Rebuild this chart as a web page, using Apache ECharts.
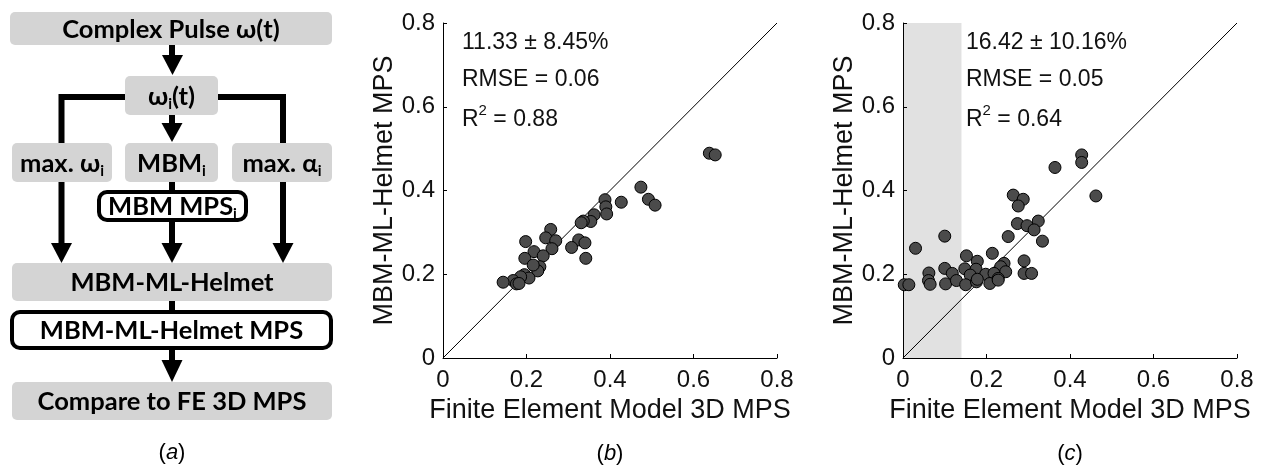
<!DOCTYPE html>
<html><head><meta charset="utf-8">
<script src="https://cdn.jsdelivr.net/npm/echarts@6/dist/echarts.min.js"></script>
<style>html,body{margin:0;padding:0;background:#fff}#chart{width:1262px;height:468px}</style>
</head><body><div id="chart"></div>
<script>
// ---------------- data ----------------
const axisMin = 0, axisMax = 0.8, axisStep = 0.2;
const identityLine = [[0, 0], [0.8, 0.8]];
// panel (b): Finite Element Model 3D MPS vs MBM-ML-Helmet MPS
const bFE = [0.638, 0.652, 0.474, 0.492, 0.508, 0.427, 0.388, 0.390, 0.392, 0.362, 0.354, 0.336, 0.331, 0.325, 0.340, 0.308, 0.342, 0.258, 0.246, 0.270, 0.261, 0.198, 0.218, 0.240, 0.196, 0.232, 0.227, 0.216, 0.195, 0.206, 0.186, 0.168, 0.176, 0.144, 0.182];
const bML = [0.489, 0.485, 0.408, 0.379, 0.365, 0.372, 0.378, 0.361, 0.344, 0.342, 0.326, 0.327, 0.323, 0.282, 0.275, 0.264, 0.238, 0.307, 0.287, 0.280, 0.261, 0.278, 0.254, 0.244, 0.238, 0.218, 0.208, 0.222, 0.199, 0.191, 0.194, 0.185, 0.177, 0.181, 0.178];
// panel (c)
const cFE = [0.428, 0.428, 0.364, 0.462, 0.264, 0.288, 0.276, 0.274, 0.297, 0.324, 0.314, 0.334, 0.252, 0.100, 0.030, 0.152, 0.214, 0.178, 0.290, 0.242, 0.234, 0.246, 0.100, 0.062, 0.118, 0.148, 0.175, 0.161, 0.198, 0.218, 0.290, 0.308, 0.061, 0.065, 0.003, 0.014, 0.102, 0.128, 0.150, 0.176, 0.178, 0.208, 0.228, 0.228];
const cML = [0.485, 0.467, 0.455, 0.387, 0.389, 0.379, 0.363, 0.321, 0.316, 0.327, 0.306, 0.279, 0.290, 0.291, 0.262, 0.244, 0.250, 0.231, 0.232, 0.226, 0.218, 0.206, 0.214, 0.203, 0.202, 0.213, 0.212, 0.198, 0.200, 0.202, 0.202, 0.202, 0.185, 0.176, 0.175, 0.175, 0.177, 0.185, 0.175, 0.182, 0.188, 0.178, 0.190, 0.186];
const shadedFE = [0, 0.14];
const statsB = ['11.33 \u00b1 8.45%', 'RMSE = 0.06', '0.88'];
const statsC = ['16.42 \u00b1 10.16%', 'RMSE = 0.05', '0.64'];
const xTitle = 'Finite Element Model 3D MPS';
const yTitle = 'MBM-ML-Helmet MPS';
const panelLetters = ['a', 'b', 'c'];
// flowchart texts ('|' toggles subscript)
const flowSteps = ['Complex Pulse \u03c9(t)', '\u03c9|i|(t)', 'max. \u03c9|i', 'MBM|i', 'max. \u03b1|i', 'MBM MPS|i', 'MBM-ML-Helmet', 'MBM-ML-Helmet MPS', 'Compare to FE 3D MPS'];

// ---------------- helpers ----------------
const FF = 'Liberation Sans';
const FLOW_F = 'Lato';
const TXT = '#111';
const ctx = document.createElement('canvas').getContext('2d');
function measure(s) {
  ctx.font = (s.style || 'normal') + ' ' + (s.weight || 'normal') + ' ' + s.size + 'px ' + s.family;
  return ctx.measureText(s.t).width;
}
function compose(segs, x, y, align, z) {
  const ws = segs.map(measure);
  const total = ws.reduce((a, b) => a + b, 0);
  let sx = align === 'center' ? x - total / 2 : (align === 'right' ? x - total : x);
  return segs.map((s, i) => {
    const el = { type: 'text', x: sx, y: y + (s.dy || 0), z: z || 5, silent: true,
      style: { text: s.t, fill: s.color || '#000', fontSize: s.size, fontFamily: s.family,
        fontWeight: s.weight || 'normal', fontStyle: s.style || 'normal', align: 'left', verticalAlign: 'middle' } };
    sx += ws[i];
    return el;
  });
}
function flowText(str, cx, cy) {
  const parts = str.split('|');
  const segs = parts.map((p, i) => i % 2 === 0
    ? { t: p, size: 25.5, weight: 'bold', family: FLOW_F }
    : { t: p, size: 15, weight: 'bold', family: FLOW_F, dy: 7.5 });
  return compose(segs.filter(s => s.t.length), cx, cy, 'center', 12);
}
const G = [];
const GRAY = '#d4d4d4';
function grayBox(x, y, w, h) { G.push({ type: 'rect', z: 10, silent: true, shape: { x, y, width: w, height: h, r: 5 }, style: { fill: GRAY } }); }
function outlineBox(x, y, w, h) { G.push({ type: 'rect', z: 10, silent: true, shape: { x: x + 2, y: y + 2, width: w - 4, height: h - 4, r: 8 }, style: { fill: '#fff', stroke: '#000', lineWidth: 4 } }); }
function line(pts) { G.push({ type: 'polyline', z: 8, silent: true, shape: { points: pts }, style: { stroke: '#000', lineWidth: 6, fill: null, lineJoin: 'miter', lineCap: 'butt' } }); }
function head(cx, yTop, yTip) { G.push({ type: 'polygon', z: 8, silent: true, shape: { points: [[cx - 10.5, yTop], [cx + 10.5, yTop], [cx, yTip]] }, style: { fill: '#000' } }); }

// flowchart connectors
line([[172, 45], [172, 57]]); head(172.5, 55, 75);
line([[128, 97], [61.5, 97], [61.5, 245]]); head(61.5, 243, 263);
line([[215, 97], [283, 97], [283, 245]]); head(283, 243, 263);
line([[172, 115], [172, 125]]); head(172, 123, 142);
line([[172, 182], [172, 192]]);
line([[172, 220], [172, 245]]); head(172, 243, 263);
line([[172, 301], [172, 312]]);
line([[172, 348], [172, 362]]); head(172, 360, 382);
// boxes
const boxes = [
  ['g', 10, 12, 322, 33], ['g', 125, 76, 93, 39], ['g', 12, 143, 100, 39], ['g', 125, 143, 93, 39],
  ['g', 232, 143, 100, 39], ['o', 97, 190, 151, 32], ['g', 12, 263, 320, 38], ['o', 10, 310, 323, 40], ['g', 12, 382, 320, 38]
];
boxes.forEach((b, i) => {
  if (b[0] === 'g') grayBox(b[1], b[2], b[3], b[4]); else outlineBox(b[1], b[2], b[3], b[4]);
  G.push(...flowText(flowSteps[i], b[1] + b[3] / 2, b[2] + b[4] / 2 + 1));
});

// panel letters
[[172, 453], [610, 454], [1070, 454]].forEach((p, i) => {
  G.push(...compose([
    { t: '(', size: 22, family: FF },
    { t: panelLetters[i], size: 22, family: FF, style: 'italic' },
    { t: ')', size: 22, family: FF }
  ], p[0], p[1], 'center', 12));
});

// statistics annotations
function stats(arr, x) {
  G.push(...compose([{ t: arr[0], size: 23, family: FF, color: TXT }], x, 43, 'left', 12));
  G.push(...compose([{ t: arr[1], size: 23, family: FF, color: TXT }], x, 80, 'left', 12));
  G.push(...compose([
    { t: 'R', size: 23, family: FF, color: TXT },
    { t: '2', size: 15, family: FF, color: TXT, dy: -9 },
    { t: ' = ' + arr[2], size: 23, family: FF, color: TXT }
  ], x, 120, 'left', 12));
}
stats(statsB, 462);
stats(statsC, 966);

// ---------------- chart ----------------
function xAx(gi) {
  return { gridIndex: gi, type: 'value', min: axisMin, max: axisMax, interval: axisStep, z: 2,
    name: xTitle, nameLocation: 'middle', nameGap: 38,
    nameTextStyle: { fontSize: 27, color: TXT, fontFamily: FF },
    axisLine: { show: true, onZero: false, lineStyle: { color: '#000', width: 1 } },
    axisTick: { show: true, inside: true, length: 4, lineStyle: { color: '#000', width: 1 } },
    axisLabel: { fontSize: 24, color: TXT, fontFamily: FF, margin: 10 },
    splitLine: { show: false } };
}
function yAx(gi) {
  return { gridIndex: gi, type: 'value', min: axisMin, max: axisMax, interval: axisStep, z: 2,
    name: yTitle, nameLocation: 'middle', nameGap: 41, nameRotate: 90,
    nameTextStyle: { fontSize: 27, color: TXT, fontFamily: FF },
    axisLine: { show: true, onZero: false, lineStyle: { color: '#000', width: 1 } },
    axisTick: { show: true, inside: true, length: 4, lineStyle: { color: '#000', width: 1 } },
    axisLabel: { fontSize: 24, color: TXT, fontFamily: FF, margin: 8 },
    splitLine: { show: false } };
}
const pts = (xs, ys) => xs.map((v, i) => [v, ys[i]]);
const scatterStyle = { color: '#4b4b4b', borderColor: '#000', borderWidth: 1, opacity: 1 };

const option = {
  animation: false,
  backgroundColor: '#fff',
  grid: [
    { left: 443, top: 23, width: 334, height: 335, containLabel: false, outerBoundsMode: 'none' },
    { left: 903, top: 23, width: 334, height: 335, containLabel: false, outerBoundsMode: 'none' }
  ],
  xAxis: [xAx(0), xAx(1)],
  yAxis: [yAx(0), yAx(1)],
  graphic: { elements: G },
  series: [
    { type: 'line', xAxisIndex: 1, yAxisIndex: 1, data: [], z: 1, silent: true,
      markArea: { silent: true, itemStyle: { color: '#e1e1e1' }, label: { show: false },
        data: [[{ xAxis: shadedFE[0] }, { xAxis: shadedFE[1] }]] } },
    { type: 'line', xAxisIndex: 0, yAxisIndex: 0, data: identityLine, symbol: 'none', z: 2, silent: true,
      lineStyle: { color: '#000', width: 1 } },
    { type: 'line', xAxisIndex: 1, yAxisIndex: 1, data: identityLine, symbol: 'none', z: 2, silent: true,
      lineStyle: { color: '#000', width: 1 } },
    { type: 'scatter', xAxisIndex: 0, yAxisIndex: 0, data: pts(bFE, bML), symbolSize: 12, z: 3, clip: false,
      itemStyle: scatterStyle },
    { type: 'scatter', xAxisIndex: 1, yAxisIndex: 1, data: pts(cFE, cML), symbolSize: 12, z: 3, clip: false,
      itemStyle: scatterStyle }
  ]
};
const chart = echarts.init(document.getElementById('chart'), null, { renderer: 'canvas' });
chart.setOption(option);
</script>
</body></html>
